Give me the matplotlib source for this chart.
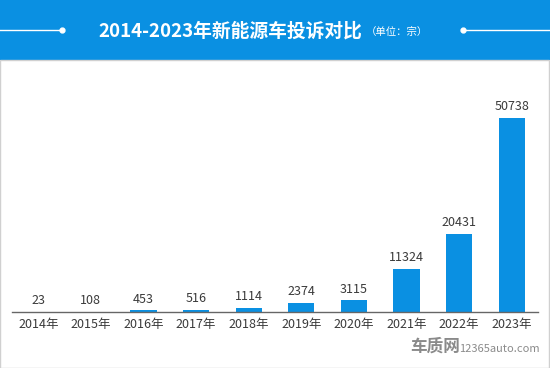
import matplotlib.pyplot as plt
from matplotlib.patches import Rectangle

plt.rcParams['font.family'] = ['Noto Sans CJK SC', 'DejaVu Sans']

years = ['2014年', '2015年', '2016年', '2017年', '2018年',
         '2019年', '2020年', '2021年', '2022年', '2023年']
complaints = [23, 108, 453, 516, 1114, 2374, 3115, 11324, 20431, 50738]

W, H = 550, 368
fig = plt.figure(figsize=(W / 100, H / 100), dpi=100)
fig.patch.set_facecolor('white')

# header band
fig.patches.append(Rectangle((0, 1 - 60 / H), 1, 60 / H, transform=fig.transFigure,
                             facecolor='#0a90e2', edgecolor='none', zorder=0))
fig.text(230 / W, 1 - 31 / H, '2014-2023年新能源车投诉对比', color='white',
         fontsize=13.5, fontweight='bold', ha='center', va='center')
fig.text(366 / W, 1 - 32 / H, '（单位：宗）', color='white', fontsize=7.5,
         ha='left', va='center')
fig.lines.append(plt.Line2D([0, 62 / W], [1 - 30 / H] * 2, transform=fig.transFigure,
                            color='white', lw=1))
fig.lines.append(plt.Line2D([463 / W, 1], [1 - 30 / H] * 2, transform=fig.transFigure,
                            color='white', lw=1))
fig.lines.append(plt.Line2D([62 / W, 463 / W], [1 - 30 / H] * 2, transform=fig.transFigure,
                            color='white', lw=0, marker='o', markersize=3.5))

# outer border
fig.patches.append(Rectangle((0, 0), 1 - 1 / W, 1 - 60 / H, transform=fig.transFigure,
                             facecolor='none', edgecolor='#d0d0d0', lw=1, zorder=0))

bottom_px, top_px = 312, 80
ax = fig.add_axes([12 / W, 1 - bottom_px / H, 526 / W, (bottom_px - top_px) / H])
x = range(len(years))
bars = ax.bar(x, complaints, width=0.5, color='#0a90e2')
ax.set_xlim(-0.5, len(years) - 0.5)
ax.set_ylim(0, 50738 * (bottom_px - top_px) / 194)
for xi, v in zip(x, complaints):
    ax.text(xi, v + 1200, str(v), ha='center', va='bottom', fontsize=9, color='#3a3a3a')
ax.set_xticks(list(x))
ax.set_xticklabels(years, fontsize=9, color='#3a3a3a')
ax.tick_params(axis='x', length=0, pad=4)
ax.set_yticks([])
for s in ['top', 'right', 'left']:
    ax.spines[s].set_visible(False)
ax.spines['bottom'].set_color('#666666')
ax.spines['bottom'].set_linewidth(1)
ax.patch.set_alpha(0)

# watermark
fig.text(435 / W, 1 - 347 / H, '车质网', color='#8a8a8a', fontsize=12,
         fontweight='bold', ha='center', va='center')
fig.text(499 / W, 1 - 349 / H, '12365auto.com', color='#8a8a8a', fontsize=8,
         ha='center', va='center')

fig.savefig('out.png', dpi=100)
